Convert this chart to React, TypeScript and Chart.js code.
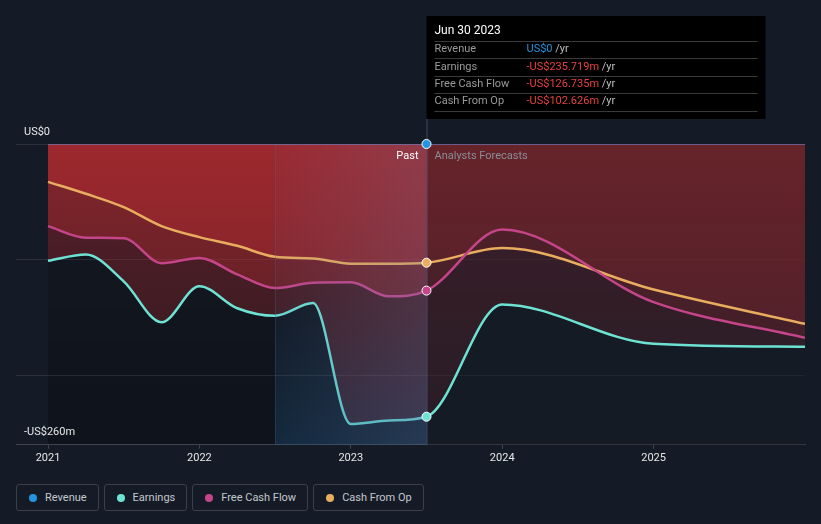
import React, { useEffect, useRef } from "react";
import { Chart, registerables } from "chart.js";

Chart.register(...registerables);

// ---- data (fractional years) ----
const dates = [2021.0, 2021.25, 2021.5, 2021.75, 2022.0, 2022.25, 2022.5, 2022.75, 2023.0, 2023.25, 2023.5, 2024.0, 2025.0, 2026.0];
const revenue = [0, 0, 0, 0, 0, 0, 0, 0, 0, 0, 0, 0, 0, 0];
const earnings = [-101, -95.5, -118.7, -154, -123, -142, -148.5, -137.5, -242, -239, -235.719, -138.7, -172.7, -175.3];
const freeCashFlow = [-71, -81, -81.5, -103, -98.5, -112.7, -124.5, -120, -119.6, -131.7, -126.735, -74, -136.7, -167.5];
const cashFromOp = [-32.7, -43, -54.6, -71, -80.5, -88, -97.5, -99, -103.4, -103.6, -102.626, -90, -125.7, -155.5];
const xTicks = [2021, 2022, 2023, 2024, 2025];
const yGrid = [-200, -100, 0];
const nowDate = 2023.5;
const bandStart = 2022.5;
const tooltipTitle = "Jun 30 2023";
const tooltipRows = [
  { label: "Revenue", value: "US$0", color: "#2394df" },
  { label: "Earnings", value: "-US$235.719m", color: "#e5413f" },
  { label: "Free Cash Flow", value: "-US$126.735m", color: "#e5413f" },
  { label: "Cash From Op", value: "-US$102.626m", color: "#e5413f" },
];
const seriesNames = ["Revenue", "Earnings", "Free Cash Flow", "Cash From Op"];
const seriesColors = ["#2394df", "#6ee3d3", "#c4458a", "#e8ad5e"];

const BG = "#151b26";
const FONT = "Roboto, 'Noto Sans', sans-serif";

const toPts = (vals: number[]) => dates.map((d, i) => ({ x: d, y: vals[i] }));

export default function App() {
  const ref = useRef<HTMLCanvasElement | null>(null);

  useEffect(() => {
    document.body.style.margin = "0";
    document.body.style.background = BG;
    const canvas = ref.current;
    if (!canvas) return;

    const redFill = (ctx: any) => {
      const chart = ctx.chart;
      const ca = chart.chartArea;
      if (!ca) return "rgba(200,45,50,0.3)";
      const g = chart.ctx.createLinearGradient(0, ca.top, 0, ca.bottom);
      g.addColorStop(0, "rgba(200,45,50,0.38)");
      g.addColorStop(1, "rgba(200,45,50,0.18)");
      return g;
    };

    const decor = {
      id: "decor",
      beforeDraw(chart: any) {
        const { ctx, chartArea: ca, scales } = chart;
        const x0 = scales.x.getPixelForValue(2021);
        const xn = scales.x.getPixelForValue(nowDate);
        ctx.save();
        const g = ctx.createLinearGradient(0, ca.top, 0, ca.bottom);
        g.addColorStop(0, "rgba(0,0,0,0.08)");
        g.addColorStop(1, "rgba(0,0,0,0.28)");
        ctx.fillStyle = g;
        ctx.fillRect(x0, ca.top, xn - x0, ca.bottom - ca.top);
        ctx.restore();
      },
      beforeDatasetsDraw(chart: any) {
        const { ctx, chartArea: ca, scales } = chart;
        const xn = scales.x.getPixelForValue(nowDate);
        ctx.save();
        // dim forecast fills
        ctx.fillStyle = "rgba(21,27,38,0.4)";
        ctx.fillRect(xn, ca.top, ca.right - xn, ca.bottom - ca.top);
        ctx.restore();
      },
      afterDatasetsDraw(chart: any) {
        const { ctx, chartArea: ca, scales } = chart;
        const xs = scales.x;
        const ys = scales.y;
        const xn = xs.getPixelForValue(nowDate);
        const xb = xs.getPixelForValue(bandStart);
        ctx.save();
        // highlight band (last year), drawn over the lines
        const gv = ctx.createLinearGradient(0, ca.top, 0, ca.bottom);
        gv.addColorStop(0, "rgba(20,100,160,0)");
        gv.addColorStop(0.5, "rgba(20,100,160,0.02)");
        gv.addColorStop(1, "rgba(20,100,160,0.24)");
        ctx.fillStyle = gv;
        ctx.fillRect(xb, ca.top, xn - xb, ca.bottom - ca.top);
        const gh = ctx.createLinearGradient(xb, 0, xn, 0);
        gh.addColorStop(0, "rgba(110,120,165,0.04)");
        gh.addColorStop(1, "rgba(110,120,165,0.24)");
        ctx.fillStyle = gh;
        ctx.fillRect(xb, ca.top, xn - xb, ca.bottom - ca.top);
        ctx.strokeStyle = "rgba(80,100,135,0.3)";
        ctx.lineWidth = 1;
        ctx.beginPath();
        ctx.moveTo(Math.round(xb) + 0.5, ca.top);
        ctx.lineTo(Math.round(xb) + 0.5, ca.bottom);
        ctx.stroke();

        // vertical line
        ctx.strokeStyle = "rgba(95,115,155,0.55)";
        ctx.lineWidth = 1;
        ctx.beginPath();
        ctx.moveTo(xn + 0.5, 118);
        ctx.lineTo(xn + 0.5, ca.bottom);
        ctx.stroke();

        // points at now
        const idx = dates.indexOf(nowDate);
        const vals = [revenue, earnings, freeCashFlow, cashFromOp];
        vals.forEach((arr, i) => {
          const y = ys.getPixelForValue(arr[idx]);
          ctx.beginPath();
          ctx.arc(xn, y, 4.5, 0, Math.PI * 2);
          ctx.fillStyle = seriesColors[i];
          ctx.fill();
          ctx.lineWidth = 1;
          ctx.strokeStyle = "#ffffff";
          ctx.stroke();
        });

        // labels
        ctx.textBaseline = "middle";
        ctx.font = `11px ${FONT}`;
        ctx.fillStyle = "#ffffff";
        ctx.textAlign = "right";
        ctx.fillText("Past", xn - 8, 156);
        ctx.textAlign = "left";
        ctx.fillStyle = "#8a8e97";
        ctx.fillText("Analysts Forecasts", xn + 8, 156);

        ctx.fillStyle = "#e6e6e6";
        ctx.fillText("US$0", 24, 132);
        ctx.fillText("-US$260m", 24, 432);

        // tooltip box
        const bx = xn;
        const bw = 339;
        ctx.fillStyle = "#000000";
        ctx.fillRect(bx, 16, bw, 103);
        ctx.fillStyle = "#ffffff";
        ctx.font = `12px ${FONT}`;
        ctx.fillText(tooltipTitle, bx + 8, 31);
        const seps = [41, 58, 76, 93, 110.5];
        ctx.strokeStyle = "#3a3a3a";
        seps.forEach((y) => {
          ctx.beginPath();
          ctx.moveTo(bx + 8, Math.round(y) + 0.5);
          ctx.lineTo(bx + bw - 8, Math.round(y) + 0.5);
          ctx.stroke();
        });
        const rowY = [49.5, 67, 84.5, 101.5];
        ctx.font = `11px ${FONT}`;
        tooltipRows.forEach((r, i) => {
          ctx.fillStyle = "#9a9a9a";
          ctx.fillText(r.label, bx + 8, rowY[i]);
          ctx.fillStyle = r.color;
          ctx.fillText(r.value, bx + 100, rowY[i]);
          const w = ctx.measureText(r.value).width;
          ctx.fillStyle = "#bdbdbd";
          ctx.fillText(" /yr", bx + 100 + w, rowY[i]);
        });
        ctx.restore();
      },
    };

    const lineDs = (label: string, vals: number[], color: string, fill: boolean) => ({
      label,
      data: toPts(vals),
      borderColor: color,
      borderWidth: 2.5,
      pointRadius: 0,
      pointHoverRadius: 0,
      cubicInterpolationMode: "monotone" as const,
      fill: fill ? "origin" : false,
      backgroundColor: fill ? redFill : "transparent",
    });

    const chart = new Chart(canvas, {
      type: "line",
      data: {
        datasets: [
          { ...lineDs("Revenue", revenue, "#6c70a6", false), borderWidth: 1.5 },
          lineDs("Earnings", earnings, seriesColors[1], true),
          lineDs("Free Cash Flow", freeCashFlow, seriesColors[2], true),
          lineDs("Cash From Op", cashFromOp, seriesColors[3], true),
        ] as any,
      },
      options: {
        animation: false,
        responsive: false,
        events: [],
        layout: { padding: { left: 16, right: 16, top: 144, bottom: 2 } },
        plugins: {
          legend: { display: false },
          tooltip: { enabled: false },
          filler: { drawTime: "beforeDatasetsDraw" } as any,
        },
        scales: {
          x: {
            type: "linear",
            min: 2021 - 32 / 151.4,
            max: 2026,
            afterBuildTicks: (scale: any) => {
              scale.ticks = xTicks.map((v) => ({ value: v }));
            },
            ticks: {
              color: "#e6e6e6",
              font: { family: FONT, size: 11 },
              padding: 3,
              maxRotation: 0,
              autoSkip: false,
              callback: (v: any) => String(v),
            },
            grid: {
              display: true,
              drawOnChartArea: false,
              drawTicks: true,
              tickLength: 4,
              color: "#3d424d",
            },
            border: { display: true, color: "#3d424d", width: 1 },
          },
          y: {
            type: "linear",
            min: -260,
            max: 0,
            afterBuildTicks: (scale: any) => {
              scale.ticks = yGrid.map((v) => ({ value: v }));
            },
            ticks: { display: false },
            grid: { color: "rgba(255,255,255,0.09)", drawTicks: false },
            border: { display: false },
          },
        },
      },
      plugins: [decor],
    });

    return () => chart.destroy();
  }, []);

  return (
    <div style={{ position: "absolute", left: 0, top: 0, width: 821, height: 524, background: BG, fontFamily: FONT }}>
      <canvas ref={ref} width={821} height={470} style={{ display: "block", width: 821, height: 470 }} />
      <div style={{ position: "absolute", left: 16, top: 484, display: "flex", gap: 5 }}>
        {seriesNames.map((n, i) => (
          <div
            key={n}
            style={{
              boxSizing: "border-box",
              height: 27,
              border: "1px solid #3a3f4a",
              borderRadius: 3,
              display: "flex",
              alignItems: "center",
              padding: "0 11px 0 12px",
              color: "#c3c7ce",
              fontSize: 11,
              whiteSpace: "nowrap",
            }}
          >
            <span style={{ width: 8, height: 8, borderRadius: 4, background: seriesColors[i], marginRight: 8, display: "inline-block", flex: "none" }} />
            {n}
          </div>
        ))}
      </div>
    </div>
  );
}
